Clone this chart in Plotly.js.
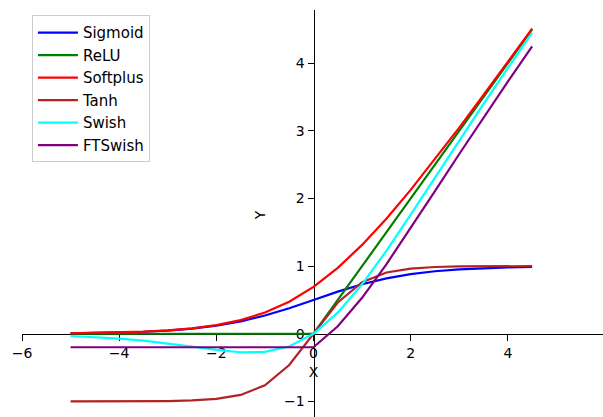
<!DOCTYPE html>
<html>
<head>
<meta charset="utf-8">
<script src="https://cdn.plot.ly/plotly-3.0.1.min.js"></script>
<style>
html, body { margin: 0; padding: 0; overflow: hidden; background: #fff; }
#chart { width: 605px; height: 420px; }
</style>
</head>
<body>
<div id="chart"></div>
<script>
// Data (x sampled from -5 to 4.5, step 0.5)
var xValues = [-5, -4.5, -4, -3.5, -3, -2.5, -2, -1.5, -1, -0.5, 0, 0.5, 1, 1.5, 2, 2.5, 3, 3.5, 4, 4.5];
var sigmoidValues = [0.0067, 0.0110, 0.0180, 0.0293, 0.0474, 0.0759, 0.1192, 0.1824, 0.2689, 0.3775, 0.5, 0.6225, 0.7311, 0.8176, 0.8808, 0.9241, 0.9526, 0.9707, 0.9820, 0.9890];
var reluValues = [0, 0, 0, 0, 0, 0, 0, 0, 0, 0, 0, 0.5, 1, 1.5, 2, 2.5, 3, 3.5, 4, 4.5];
var softplusValues = [0.0067, 0.0110, 0.0182, 0.0298, 0.0486, 0.0789, 0.1269, 0.2014, 0.3133, 0.4741, 0.6931, 0.9741, 1.3133, 1.7014, 2.1269, 2.5789, 3.0486, 3.5298, 4.0182, 4.5110];
var tanhValues = [-0.9999, -0.9998, -0.9993, -0.9982, -0.9951, -0.9866, -0.9640, -0.9051, -0.7616, -0.4621, 0, 0.4621, 0.7616, 0.9051, 0.9640, 0.9866, 0.9951, 0.9982, 0.9993, 0.9998];
var swishValues = [-0.0335, -0.0494, -0.0719, -0.1026, -0.1423, -0.1896, -0.2384, -0.2736, -0.2689, -0.1888, 0, 0.3112, 0.7311, 1.2264, 1.7616, 2.3104, 2.8577, 3.3974, 3.9281, 4.4506];
var ftswishValues = [-0.2, -0.2, -0.2, -0.2, -0.2, -0.2, -0.2, -0.2, -0.2, -0.2, -0.2, 0.1112, 0.5311, 1.0264, 1.5616, 2.1104, 2.6577, 3.1974, 3.7281, 4.2506];

var seriesNames = ["Sigmoid", "ReLU", "Softplus", "Tanh", "Swish", "FTSwish"];
var seriesValues = [sigmoidValues, reluValues, softplusValues, tanhValues, swishValues, ftswishValues];
var seriesColors = ["#0000ff", "#008000", "#ff0000", "#b22222", "#00ffff", "#800080"];

var xTicks = [-6, -4, -2, 0, 2, 4, 6];
var yTicks = [-1, 0, 1, 2, 3, 4];

var xRange = [-6, 6];
var yRange = [-1.2755, 4.787];

var traces = seriesNames.map(function (name, i) {
  return {
    x: xValues,
    y: seriesValues[i],
    name: name,
    type: "scatter",
    mode: "lines",
    line: { color: seriesColors[i], width: 2.2 }
  };
});

var font = { family: "DejaVu Sans, sans-serif", size: 14, color: "#000" };

var layout = {
  width: 605,
  height: 420,
  margin: { l: 22, r: 0, t: 10, b: 0 },
  paper_bgcolor: "#fff",
  plot_bgcolor: "#fff",
  font: font,
  showlegend: true,
  legend: {
    x: 0.017, y: 0.987, xanchor: "left", yanchor: "top",
    bgcolor: "rgba(255,255,255,0.8)",
    bordercolor: "#cccccc", borderwidth: 1,
    font: { family: "DejaVu Sans, sans-serif", size: 15, color: "#000" },
    itemwidth: 40
  },
  xaxis: {
    range: xRange,
    tickvals: xTicks,
    ticktext: xTicks.map(function (v) { return v < 0 ? "\u2212" + Math.abs(v) : String(v); }),
    showgrid: false,
    zeroline: false,
    showline: true, linecolor: "#000", linewidth: 1,
    ticks: "outside", ticklen: 6, tickcolor: "#000",
    anchor: "free",
    position: (0 - yRange[0]) / (yRange[1] - yRange[0]),
    layer: "below traces",
    automargin: false,
    title: { text: "X", font: font, standoff: 7 }
  },
  yaxis: {
    range: yRange,
    tickvals: yTicks,
    ticktext: yTicks.map(function (v) { return v < 0 ? "\u2212" + Math.abs(v) : String(v); }),
    showgrid: false,
    zeroline: false,
    showline: true, linecolor: "#000", linewidth: 1,
    ticks: "outside", ticklen: 6, tickcolor: "#000",
    anchor: "free",
    position: (0 - xRange[0]) / (xRange[1] - xRange[0]),
    layer: "below traces",
    automargin: false,
    title: { text: "Y", font: font, standoff: 14 }
  }
};

Plotly.newPlot("chart", traces, layout, { displayModeBar: false, staticPlot: true });
</script>
</body>
</html>
